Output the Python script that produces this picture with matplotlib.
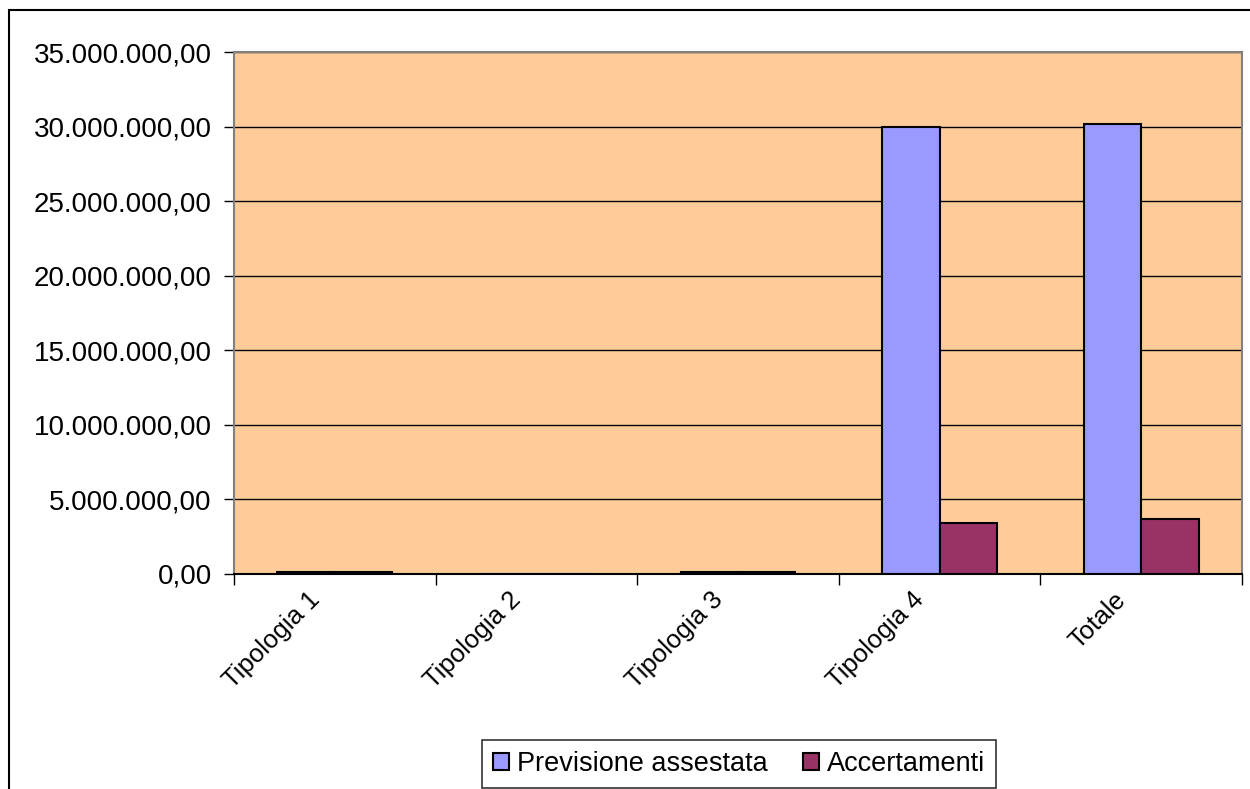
import numpy as np
import matplotlib.pyplot as plt
from matplotlib.patches import Rectangle
from matplotlib.ticker import FuncFormatter, FixedLocator, NullFormatter
from matplotlib.transforms import ScaledTranslation

plt.rcParams['font.family'] = ['Liberation Sans', 'DejaVu Sans']

categorie = ['Tipologia 1', 'Tipologia 2', 'Tipologia 3', 'Tipologia 4', 'Totale']
previsione = [120000, 0, 110000, 29950000, 30180000]
accertamenti = [130000, 0, 120000, 3450000, 3700000]
serie = ['Previsione assestata', 'Accertamenti']

fig = plt.figure(figsize=(12.5, 7.89), dpi=100)
ax = fig.add_axes([0.1872, 0.2725, 0.8064, 0.6615])

# cornice esterna del grafico
fig.patches.append(Rectangle((9 / 1250, -0.01), 1.0, 1 - 10 / 789 + 0.01,
                             transform=fig.transFigure, fill=False,
                             edgecolor='black', linewidth=1.5))

x = np.arange(len(categorie))
w = 0.285
ax.bar(x - w / 2, previsione, w, color='#9999ff', edgecolor='black',
       linewidth=1.5, label=serie[0], zorder=3)
ax.bar(x + w / 2, accertamenti, w, color='#993366', edgecolor='black',
       linewidth=1.5, label=serie[1], zorder=3)

ax.set_facecolor('#ffcc99')
ax.set_xlim(-0.5, len(categorie) - 0.5)
ax.set_ylim(0, 35000000)
ax.set_yticks(np.arange(0, 35000001, 5000000))


def fmt(v, pos):
    s = f'{v:,.2f}'
    return s.replace(',', 'X').replace('.', ',').replace('X', '.')


ax.yaxis.set_major_formatter(FuncFormatter(fmt))
ax.yaxis.grid(True, color='black', linewidth=1, zorder=1)
ax.tick_params(axis='y', labelsize=20, length=7, width=1, direction='out', pad=9)

ax.set_xticks(x)
ax.set_xticklabels(categorie, rotation=45, ha='right', va='center',
                   rotation_mode='anchor', fontsize=18.5)
ax.tick_params(axis='x', which='major', length=0, pad=16)
shift = ScaledTranslation(-0.19, 0, fig.dpi_scale_trans)
for lab in ax.get_xticklabels():
    lab.set_transform(lab.get_transform() + shift)
ax.xaxis.set_minor_locator(FixedLocator(np.arange(-0.5, len(categorie), 1.0)))
ax.xaxis.set_minor_formatter(NullFormatter())
ax.tick_params(axis='x', which='minor', length=8, width=1, direction='out')

for side in ['top', 'right', 'left']:
    ax.spines[side].set_color('#808080')
    ax.spines[side].set_linewidth(1.5)
ax.spines['bottom'].set_color('black')
ax.spines['bottom'].set_linewidth(1.5)

leg = fig.legend(loc='center', bbox_to_anchor=(739 / 1250, 1 - 764 / 789),
                 ncol=2, fontsize=19.5, frameon=True, fancybox=False,
                 edgecolor='black', handlelength=0.6, handleheight=0.6,
                 handletextpad=0.3, columnspacing=1.3, borderpad=0.4)
leg.get_frame().set_linewidth(1.2)

fig.savefig('out.png', dpi=100)
